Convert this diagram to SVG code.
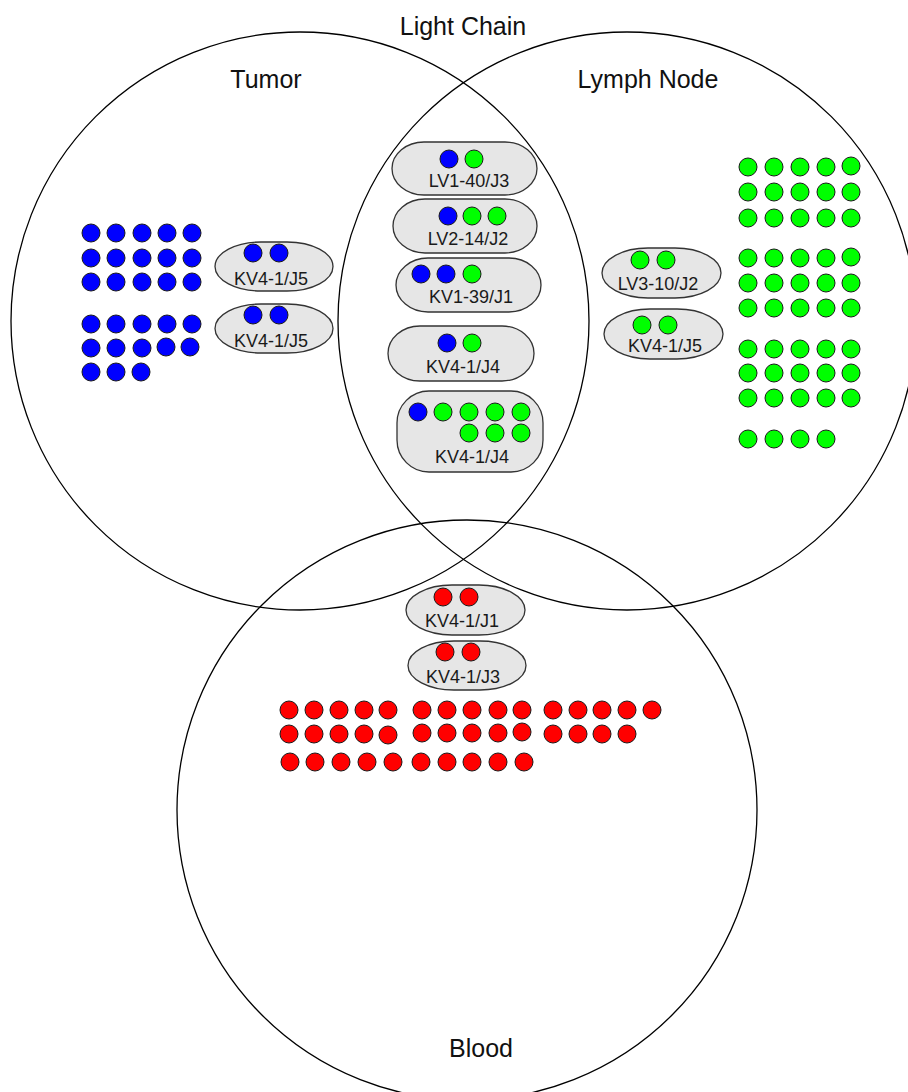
<svg xmlns="http://www.w3.org/2000/svg" width="908" height="1092" viewBox="0 0 908 1092">
<style>
.set{fill:none;stroke:#000;stroke-width:1.3}
.title{font-family:"Liberation Sans",Arial,sans-serif;font-size:25px;fill:#111;text-anchor:middle}
.pill{fill:#e6e6e6;stroke:#333;stroke-width:1.3}
.lbl{font-family:"Liberation Sans",Arial,sans-serif;font-size:18px;fill:#1a1a1a;text-anchor:middle}
.b{fill:#0000ff;stroke:#1a1a1a;stroke-width:1}
.g{fill:#00ff00;stroke:#1a1a1a;stroke-width:1}
.r{fill:#ff0000;stroke:#1a1a1a;stroke-width:1}
</style>
<rect width="908" height="1092" fill="#fff"/>
<text class="title" x="463" y="35">Light Chain</text>
<g id="set-tumor">
<circle class="set" cx="300" cy="321" r="289"/>
<text class="title" x="266" y="88">Tumor</text>
</g>
<g id="set-lymph">
<circle class="set" cx="627" cy="321" r="289"/>
<text class="title" x="648" y="88">Lymph Node</text>
</g>
<g id="set-blood">
<circle class="set" cx="467" cy="810" r="290"/>
<text class="title" x="481" y="1057">Blood</text>
</g>

<g id="tumor-dots">
<circle class="b" cx="91" cy="233" r="9"/><circle class="b" cx="116" cy="233" r="9"/><circle class="b" cx="142" cy="233" r="9"/><circle class="b" cx="167" cy="233" r="9"/><circle class="b" cx="192" cy="233" r="9"/>
<circle class="b" cx="91" cy="258" r="9"/><circle class="b" cx="116" cy="258" r="9"/><circle class="b" cx="142" cy="258" r="9"/><circle class="b" cx="167" cy="258" r="9"/><circle class="b" cx="192" cy="258" r="9"/>
<circle class="b" cx="91" cy="282" r="9"/><circle class="b" cx="116" cy="282" r="9"/><circle class="b" cx="142" cy="282" r="9"/><circle class="b" cx="167" cy="282" r="9"/><circle class="b" cx="192" cy="282" r="9"/>
<circle class="b" cx="91" cy="324" r="9"/><circle class="b" cx="116" cy="324" r="9"/><circle class="b" cx="142" cy="324" r="9"/><circle class="b" cx="167" cy="324" r="9"/><circle class="b" cx="192" cy="324" r="9"/>
<circle class="b" cx="91" cy="348" r="9"/><circle class="b" cx="116" cy="348" r="9"/><circle class="b" cx="142" cy="348" r="9"/><circle class="b" cx="166" cy="347" r="9"/><circle class="b" cx="190" cy="347" r="9"/>
<circle class="b" cx="91" cy="372" r="9"/><circle class="b" cx="116" cy="372" r="9"/><circle class="b" cx="141" cy="372" r="9"/>
</g>

<g id="tumor-kv41j5-a">
<rect class="pill" x="215" y="242" width="118" height="49" rx="46" ry="24.5"/>
<circle class="b" cx="253" cy="253" r="9"/><circle class="b" cx="279" cy="253" r="9"/>
<text class="lbl" x="271" y="285">KV4-1/J5</text>
</g>
<g id="tumor-kv41j5-b">
<rect class="pill" x="215" y="304" width="118" height="49" rx="46" ry="24.5"/>
<circle class="b" cx="253" cy="315" r="9"/><circle class="b" cx="279" cy="315" r="9"/>
<text class="lbl" x="271" y="347">KV4-1/J5</text>
</g>

<g id="shared-lv140j3">
<rect class="pill" x="392" y="142" width="145" height="53" rx="32" ry="26.5"/>
<circle class="b" cx="449" cy="159" r="9"/><circle class="g" cx="474" cy="159" r="9"/>
<text class="lbl" x="469" y="187">LV1-40/J3</text>
</g>
<g id="shared-lv214j2">
<rect class="pill" x="393" y="199" width="144" height="54" rx="32" ry="27"/>
<circle class="b" cx="448" cy="216" r="9"/><circle class="g" cx="472" cy="216" r="9"/><circle class="g" cx="497" cy="216" r="9"/>
<text class="lbl" x="468" y="245">LV2-14/J2</text>
</g>
<g id="shared-kv139j1">
<rect class="pill" x="396" y="258" width="145" height="54" rx="32" ry="27"/>
<circle class="b" cx="421" cy="274" r="9"/><circle class="b" cx="446" cy="274" r="9"/><circle class="g" cx="472" cy="274" r="9"/>
<text class="lbl" x="471" y="303">KV1-39/J1</text>
</g>
<g id="shared-kv41j4-a">
<rect class="pill" x="388" y="326" width="146" height="55" rx="32" ry="27.5"/>
<circle class="b" cx="447" cy="343" r="9"/><circle class="g" cx="472" cy="343" r="9"/>
<text class="lbl" x="463" y="373">KV4-1/J4</text>
</g>
<g id="shared-kv41j4-b">
<rect class="pill" x="397" y="391" width="146" height="81" rx="32" ry="32"/>
<circle class="b" cx="418" cy="412" r="9"/><circle class="g" cx="443" cy="412" r="9"/><circle class="g" cx="469" cy="412" r="9"/><circle class="g" cx="495" cy="412" r="9"/><circle class="g" cx="521" cy="412" r="9"/>
<circle class="g" cx="469" cy="433" r="9"/><circle class="g" cx="495" cy="433" r="9"/><circle class="g" cx="521" cy="433" r="9"/>
<text class="lbl" x="472" y="463">KV4-1/J4</text>
</g>

<g id="lymph-lv310j2">
<rect class="pill" x="602" y="248" width="119" height="50" rx="46" ry="25"/>
<circle class="g" cx="640" cy="260" r="9"/><circle class="g" cx="666" cy="260" r="9"/>
<text class="lbl" x="658" y="290">LV3-10/J2</text>
</g>
<g id="lymph-kv41j5">
<rect class="pill" x="604" y="309" width="119" height="50" rx="46" ry="25"/>
<circle class="g" cx="642" cy="325" r="9"/><circle class="g" cx="668" cy="325" r="9"/>
<text class="lbl" x="665" y="352">KV4-1/J5</text>
</g>

<g id="lymph-dots">
<circle class="g" cx="748" cy="167" r="9"/><circle class="g" cx="774" cy="167" r="9"/><circle class="g" cx="800" cy="167" r="9"/><circle class="g" cx="826" cy="167" r="9"/><circle class="g" cx="851" cy="166" r="9"/>
<circle class="g" cx="748" cy="192" r="9"/><circle class="g" cx="774" cy="192" r="9"/><circle class="g" cx="800" cy="192" r="9"/><circle class="g" cx="826" cy="192" r="9"/><circle class="g" cx="851" cy="192" r="9"/>
<circle class="g" cx="748" cy="218" r="9"/><circle class="g" cx="774" cy="218" r="9"/><circle class="g" cx="800" cy="218" r="9"/><circle class="g" cx="826" cy="218" r="9"/><circle class="g" cx="851" cy="218" r="9"/>
<circle class="g" cx="748" cy="258" r="9"/><circle class="g" cx="774" cy="258" r="9"/><circle class="g" cx="800" cy="258" r="9"/><circle class="g" cx="826" cy="258" r="9"/><circle class="g" cx="851" cy="257" r="9"/>
<circle class="g" cx="748" cy="283" r="9"/><circle class="g" cx="774" cy="283" r="9"/><circle class="g" cx="800" cy="283" r="9"/><circle class="g" cx="826" cy="283" r="9"/><circle class="g" cx="851" cy="283" r="9"/>
<circle class="g" cx="748" cy="308" r="9"/><circle class="g" cx="774" cy="308" r="9"/><circle class="g" cx="800" cy="308" r="9"/><circle class="g" cx="826" cy="308" r="9"/><circle class="g" cx="851" cy="308" r="9"/>
<circle class="g" cx="748" cy="349" r="9"/><circle class="g" cx="774" cy="349" r="9"/><circle class="g" cx="800" cy="349" r="9"/><circle class="g" cx="826" cy="349" r="9"/><circle class="g" cx="851" cy="349" r="9"/>
<circle class="g" cx="748" cy="373" r="9"/><circle class="g" cx="774" cy="373" r="9"/><circle class="g" cx="800" cy="373" r="9"/><circle class="g" cx="826" cy="373" r="9"/><circle class="g" cx="851" cy="373" r="9"/>
<circle class="g" cx="748" cy="398" r="9"/><circle class="g" cx="774" cy="398" r="9"/><circle class="g" cx="800" cy="398" r="9"/><circle class="g" cx="826" cy="398" r="9"/><circle class="g" cx="851" cy="398" r="9"/>
<circle class="g" cx="748" cy="439" r="9"/><circle class="g" cx="774" cy="439" r="9"/><circle class="g" cx="800" cy="439" r="9"/><circle class="g" cx="826" cy="439" r="9"/>
</g>

<g id="blood-kv41j1">
<rect class="pill" x="406" y="585" width="119" height="50" rx="46" ry="25"/>
<circle class="r" cx="443" cy="597" r="9"/><circle class="r" cx="469" cy="597" r="9"/>
<text class="lbl" x="462" y="627">KV4-1/J1</text>
</g>
<g id="blood-kv41j3">
<rect class="pill" x="408" y="641" width="118" height="49" rx="46" ry="24.5"/>
<circle class="r" cx="445" cy="652" r="9"/><circle class="r" cx="471" cy="652" r="9"/>
<text class="lbl" x="463" y="683">KV4-1/J3</text>
</g>

<g id="blood-dots">
<circle class="r" cx="289" cy="710" r="9"/><circle class="r" cx="314" cy="710" r="9"/><circle class="r" cx="339" cy="710" r="9"/><circle class="r" cx="364" cy="710" r="9"/><circle class="r" cx="388" cy="710" r="9"/>
<circle class="r" cx="422" cy="710" r="9"/><circle class="r" cx="447" cy="710" r="9"/><circle class="r" cx="472" cy="710" r="9"/><circle class="r" cx="498" cy="710" r="9"/><circle class="r" cx="522" cy="710" r="9"/>
<circle class="r" cx="553" cy="710" r="9"/><circle class="r" cx="578" cy="710" r="9"/><circle class="r" cx="602" cy="710" r="9"/><circle class="r" cx="627" cy="710" r="9"/><circle class="r" cx="652" cy="710" r="9"/>
<circle class="r" cx="289" cy="734" r="9"/><circle class="r" cx="314" cy="734" r="9"/><circle class="r" cx="339" cy="734" r="9"/><circle class="r" cx="364" cy="734" r="9"/><circle class="r" cx="388" cy="735" r="9"/>
<circle class="r" cx="422" cy="733" r="9"/><circle class="r" cx="447" cy="733" r="9"/><circle class="r" cx="472" cy="733" r="9"/><circle class="r" cx="498" cy="733" r="9"/><circle class="r" cx="522" cy="732" r="9"/>
<circle class="r" cx="553" cy="734" r="9"/><circle class="r" cx="578" cy="734" r="9"/><circle class="r" cx="602" cy="734" r="9"/><circle class="r" cx="627" cy="734" r="9"/>
<circle class="r" cx="290" cy="762" r="9"/><circle class="r" cx="315" cy="762" r="9"/><circle class="r" cx="341" cy="762" r="9"/><circle class="r" cx="367" cy="762" r="9"/><circle class="r" cx="393" cy="762" r="9"/>
<circle class="r" cx="421" cy="762" r="9"/><circle class="r" cx="447" cy="762" r="9"/><circle class="r" cx="472" cy="762" r="9"/><circle class="r" cx="498" cy="762" r="9"/><circle class="r" cx="524" cy="762" r="9"/>
</g>
</svg>
